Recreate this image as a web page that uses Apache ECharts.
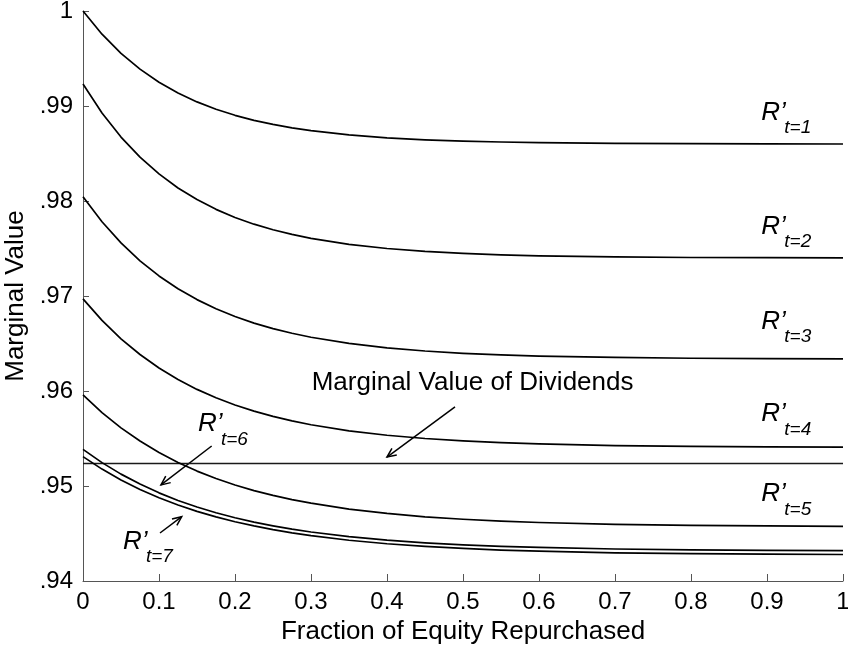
<!DOCTYPE html>
<html>
<head>
<meta charset="utf-8">
<script src="https://cdn.jsdelivr.net/npm/echarts@6/dist/echarts.min.js"></script>
<style>
html,body{margin:0;padding:0;background:#fff;}
#chart{width:848px;height:647px;}
</style>
</head>
<body>
<div id="chart"></div>
<script>
// ---- data ----
const xValues = [0, 0.025, 0.05, 0.075, 0.1, 0.125, 0.15, 0.175, 0.2, 0.225, 0.25, 0.275, 0.3, 0.35, 0.4, 0.45, 0.5, 0.55, 0.6, 0.7, 0.8, 0.9, 1.0];
const r1 = [1.0000, 0.99756, 0.99554, 0.99388, 0.99250, 0.99137, 0.99043, 0.98966, 0.98902, 0.98849, 0.98806, 0.98770, 0.98740, 0.98696, 0.98665, 0.98644, 0.98630, 0.98621, 0.98614, 0.98607, 0.98603, 0.98601, 0.98600];
const r2 = [0.99232, 0.98927, 0.98673, 0.98461, 0.98285, 0.98137, 0.98015, 0.97912, 0.97827, 0.97756, 0.97697, 0.97648, 0.97606, 0.97543, 0.97500, 0.97469, 0.97448, 0.97433, 0.97423, 0.97411, 0.97405, 0.97403, 0.97401];
const r3 = [0.98045, 0.97782, 0.97559, 0.97370, 0.97211, 0.97076, 0.96962, 0.96866, 0.96784, 0.96715, 0.96657, 0.96608, 0.96566, 0.96501, 0.96454, 0.96421, 0.96397, 0.96380, 0.96368, 0.96353, 0.96345, 0.96341, 0.96339];
const r4 = [0.96970, 0.96743, 0.96549, 0.96384, 0.96242, 0.96121, 0.96017, 0.95929, 0.95853, 0.95788, 0.95733, 0.95686, 0.95645, 0.95581, 0.95534, 0.95500, 0.95475, 0.95457, 0.95443, 0.95426, 0.95417, 0.95412, 0.95410];
const r5 = [0.95958, 0.95772, 0.95612, 0.95473, 0.95352, 0.95248, 0.95157, 0.95079, 0.95011, 0.94952, 0.94901, 0.94857, 0.94819, 0.94757, 0.94711, 0.94676, 0.94650, 0.94631, 0.94616, 0.94597, 0.94586, 0.94580, 0.94576];
const r6 = [0.95386, 0.95246, 0.95125, 0.95020, 0.94928, 0.94848, 0.94779, 0.94718, 0.94666, 0.94620, 0.94581, 0.94546, 0.94516, 0.94467, 0.94430, 0.94402, 0.94381, 0.94365, 0.94353, 0.94337, 0.94328, 0.94323, 0.94320];
const r7 = [0.95309, 0.95178, 0.95063, 0.94963, 0.94876, 0.94800, 0.94733, 0.94675, 0.94624, 0.94580, 0.94541, 0.94507, 0.94478, 0.94429, 0.94392, 0.94364, 0.94343, 0.94326, 0.94314, 0.94297, 0.94288, 0.94282, 0.94279];
const dividendX = [0, 1];
const dividendValue = [0.95238, 0.95238];
const xTickLabels = ['0', '0.1', '0.2', '0.3', '0.4', '0.5', '0.6', '0.7', '0.8', '0.9', '1'];
const yTickLabels = ['.94', '.95', '.96', '.97', '.98', '.99', '1'];
const seriesNames = ['t=1', 't=2', 't=3', 't=4', 't=5', 't=6', 't=7'];
const xTitle = 'Fraction of Equity Repurchased';
const yTitle = 'Marginal Value';
const dividendText = 'Marginal Value of Dividends';

const FONT = "'Liberation Sans', Arial, Helvetica, sans-serif";
const chart = echarts.init(document.getElementById('chart'), null, {renderer: 'canvas'});

const curves = [r1, r2, r3, r4, r5, r6, r7];
const series = curves.map((arr, i) => ({
  name: seriesNames[i],
  type: 'line',
  data: xValues.map((x, j) => [x, arr[j]]),
  smooth: false,
  showSymbol: false,
  symbol: 'none',
  lineStyle: {color: '#000', width: 1.7, join: 'round'},
  silent: true,
  z: 3
}));
series.push({
  name: 'dividends',
  type: 'line',
  data: dividendX.map((x, j) => [x, dividendValue[j]]),
  showSymbol: false,
  symbol: 'none',
  lineStyle: {color: '#1a1a1a', width: 1.5},
  silent: true,
  z: 2
});

const option = {
  animation: false,
  backgroundColor: '#fff',
  grid: {left: 83, right: 5, top: 11, bottom: 66, containLabel: false, outerBoundsMode: 'none'},
  xAxis: {
    type: 'value', min: 0, max: 1, interval: 0.1,
    name: xTitle, nameLocation: 'middle', nameGap: 34,
    nameTextStyle: {fontFamily: FONT, fontSize: 26, color: '#000'},
    axisLine: {show: true, lineStyle: {color: '#555', width: 1}},
    axisTick: {show: true, inside: true, length: 7, lineStyle: {color: '#555'}},
    axisLabel: {fontFamily: FONT, fontSize: 24, color: '#000', margin: 9, hideOverlap: false,
      formatter: (v, i) => xTickLabels[i]},
    splitLine: {show: false}
  },
  yAxis: {
    type: 'value', min: 0.94, max: 1, interval: 0.01,
    name: yTitle, nameLocation: 'middle', nameGap: 46,
    nameTextStyle: {fontFamily: FONT, fontSize: 26, color: '#000'},
    axisLine: {show: true, lineStyle: {color: '#555', width: 1}},
    axisTick: {show: true, inside: true, length: 6, lineStyle: {color: '#555'}},
    axisLabel: {fontFamily: FONT, fontSize: 24, color: '#000', margin: 10,
      formatter: (v, i) => yTickLabels[i]},
    splitLine: {show: false}
  },
  series: series
};
chart.setOption(option);

// ---- annotations (anchored in data space) ----
const rLabels = [
  {sub: 't=1', at: [0.8925, 0.98932]},
  {sub: 't=2', at: [0.8925, 0.97732]},
  {sub: 't=3', at: [0.8925, 0.96731]},
  {sub: 't=4', at: [0.8925, 0.95758]},
  {sub: 't=5', at: [0.8925, 0.94916]},
  {sub: 't=6', at: [0.1513, 0.95653]},
  {sub: 't=7', at: [0.0526, 0.94416]}
];
const arrows = [
  {from: [0.4895, 0.95832], to: [0.4, 0.95305]},
  {from: [0.1693, 0.95421], to: [0.1026, 0.95011]},
  {from: [0.1013, 0.94505], to: [0.1299, 0.94677]}
];
const dividendTextAt = [0.3009, 0.96089];

function px(p) { return chart.convertToPixel({gridIndex: 0}, p); }
const elements = [];
rLabels.forEach(l => {
  const p = px(l.at);
  elements.push({type: 'text', x: p[0], y: p[1], silent: true,
    style: {text: 'R\u2019', font: 'italic 26px ' + FONT, fill: '#000', textAlign: 'left', textVerticalAlign: 'middle'}});
  elements.push({type: 'text', x: p[0] + 23, y: p[1] + 15.5, silent: true,
    style: {text: l.sub, font: 'italic 19px ' + FONT, fill: '#000', textAlign: 'left', textVerticalAlign: 'middle'}});
});
arrows.forEach(a => {
  const f = px(a.from), t = px(a.to);
  const ang = Math.atan2(f[1] - t[1], f[0] - t[0]);
  const L = 10, w = 0.42;
  const h1 = [t[0] + L * Math.cos(ang + w), t[1] + L * Math.sin(ang + w)];
  const h2 = [t[0] + L * Math.cos(ang - w), t[1] + L * Math.sin(ang - w)];
  elements.push({type: 'polyline', silent: true, shape: {points: [f, t]}, style: {stroke: '#000', lineWidth: 1.5, fill: null}});
  elements.push({type: 'polyline', silent: true, shape: {points: [h1, t, h2]}, style: {stroke: '#000', lineWidth: 1.5, fill: null}});
});
{
  const p = px(dividendTextAt);
  elements.push({type: 'text', x: p[0], y: p[1], silent: true,
    style: {text: dividendText, font: '26px ' + FONT, fill: '#000', textAlign: 'left', textVerticalAlign: 'middle'}});
}
chart.setOption({graphic: {elements: elements}});
</script>
</body>
</html>
